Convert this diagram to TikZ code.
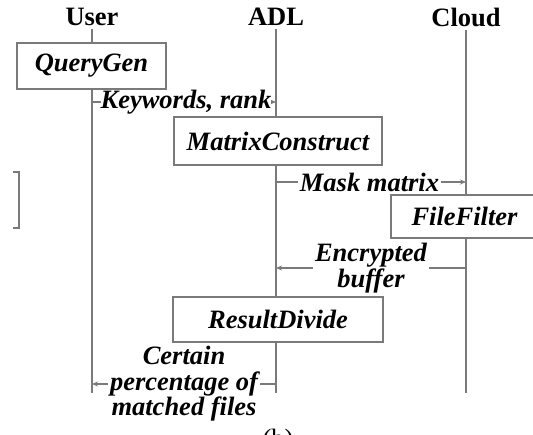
\documentclass[tikz,border=0pt]{standalone}
\usepackage{fontspec}
\setmainfont{Liberation Serif}
\usetikzlibrary{arrows.meta}
\definecolor{ln}{HTML}{7A7A7A}
\begin{document}
\begin{tikzpicture}[x=1pt,y=-1pt,
  big/.style={font=\fontsize{26.5}{25.5}\selectfont},
  head/.style={font=\fontsize{26.5}{25.5}\selectfont\bfseries},
  box/.style={draw=ln,line width=1.6pt,fill=white,inner sep=0pt,
    font=\fontsize{26.5}{25.5}\selectfont\bfseries\itshape},
  lab/.style={fill=white,inner sep=1pt,align=center,
    font=\fontsize{26.5}{25.5}\selectfont\bfseries\itshape},
  life/.style={draw=ln,line width=1.6pt},
  msg/.style={draw=ln,line width=1.6pt,-{Stealth[length=6pt,width=5pt]}}]
\useasboundingbox (0,0) rectangle (533,434);
% headers
\node[head] (user) at (92,17) {User};
\node[head] (adl) at (276,17) {ADL};
\node[head] (cloud) at (466,17) {Cloud};
\coordinate (userEnd) at (92,393);
\coordinate (adlEnd) at (276,393);
\coordinate (cloudEnd) at (466,393);
\draw[life] (user.south) -- (userEnd);
\draw[life] (adl.south) -- (adlEnd);
\draw[life] (cloud.south) -- (cloudEnd);
% boxes
\node[box,minimum width=149pt,minimum height=46pt] (qg) at (91.5,66) {QueryGen};
\node[box,minimum width=208pt,minimum height=48pt] (mc) at (278,141) {MatrixConstruct};
\node[box,minimum width=149pt,minimum height=43pt,text width=140pt,align=left] (ff) at (465.5,216.5) {\hspace*{16pt}FileFilter};
\node[box,minimum width=210pt,minimum height=45pt] (rd) at (278,319.5) {ResultDivide};
% messages
\coordinate (k1) at (92,102);
\coordinate (k2) at (276,102);
\draw[msg] (k1) -- (k2);
\node[lab,inner sep=0pt] (kw) at (186,102) {Keywords, rank};
\coordinate (m1) at (276,182);
\coordinate (m2) at (466,182);
\draw[msg] (m1) -- (m2);
\node[lab,inner sep=2pt] (mm) at (369.5,182) {Mask matrix};
\coordinate (e1) at (466,268);
\coordinate (e2) at (276,268);
\draw[msg] (e1) -- (e2);
\node[lab,inner sep=2pt] (eb) at (371,268) {Encrypted\\buffer};
\coordinate (c1) at (276,384);
\coordinate (c2) at (92,384);
\draw[msg] (c1) -- (c2);
\node[lab,inner sep=2pt] (cp) at (184,384) {Certain\\percentage of\\matched files};
% fragment of neighbouring figure
\coordinate (b1) at (13,172);
\coordinate (b2) at (19,172);
\coordinate (b3) at (19,228);
\coordinate (b4) at (13,228);
\draw[ln,line width=1.6pt] (b1) -- (b2) -- (b3) -- (b4);
\node[big,anchor=base] (cap) at (278,447) {(b)};
\end{tikzpicture}
\end{document}
